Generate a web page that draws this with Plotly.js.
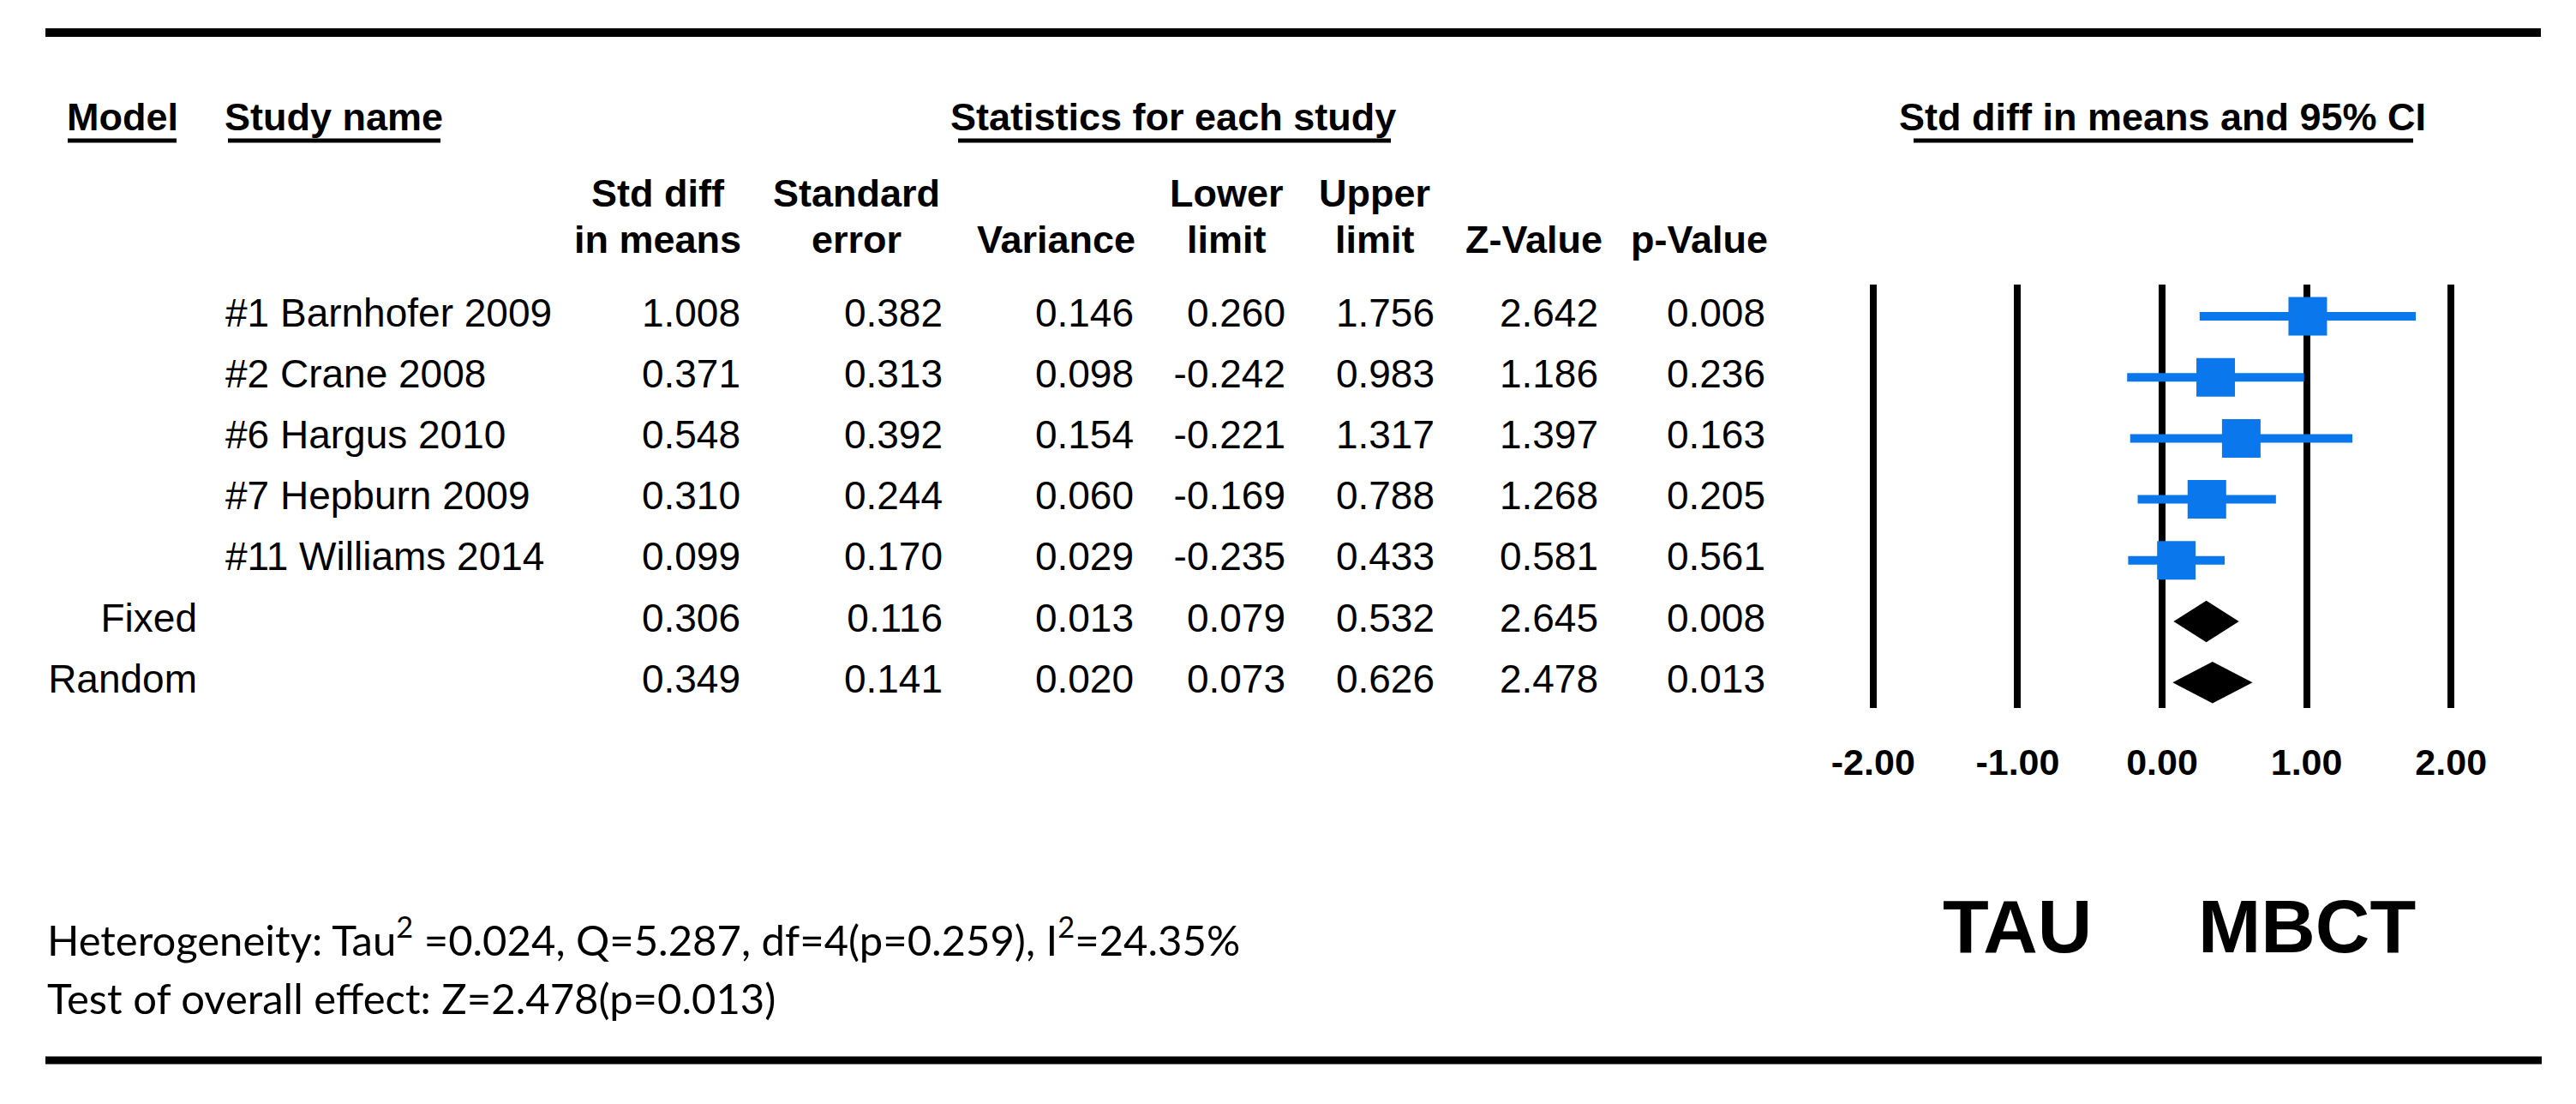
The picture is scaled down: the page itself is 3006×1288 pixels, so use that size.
<!DOCTYPE html>
<html><head><meta charset="utf-8">
<script src="https://cdn.plot.ly/plotly-3.0.1.min.js"></script>
<style>html,body{margin:0;padding:0;background:#fff}#chart{width:3006px;height:1288px}</style>
</head><body><div id="chart"></div>
<script>
// ---------------- data ----------------
const studyNames = ['#1 Barnhofer 2009','#2 Crane 2008','#6 Hargus 2010','#7 Hepburn 2009','#11 Williams 2014'];
const modelNames = ['Fixed','Random'];
const stdDiff  = [1.008, 0.371, 0.548, 0.310, 0.099, 0.306, 0.349];
const stdErr   = [0.382, 0.313, 0.392, 0.244, 0.170, 0.116, 0.141];
const variance = [0.146, 0.098, 0.154, 0.060, 0.029, 0.013, 0.020];
const lowerLim = [0.260, -0.242, -0.221, -0.169, -0.235, 0.079, 0.073];
const upperLim = [1.756, 0.983, 1.317, 0.788, 0.433, 0.532, 0.626];
const zValue   = [2.642, 1.186, 1.397, 1.268, 0.581, 2.645, 2.478];
const pValue   = [0.008, 0.236, 0.163, 0.205, 0.561, 0.008, 0.013];
const tickValues = [-2, -1, 0, 1, 2];
const tickLabels = ['-2.00', '-1.00', '0.00', '1.00', '2.00'];
const groupLabels = ['TAU', 'MBCT'];
const groupPositions = [-1, 1];
const topHeaders = ['Model', 'Study name', 'Statistics for each study', 'Std diff in means and 95% CI'];
const colHeaders1 = ['Std diff', 'Standard', '', 'Lower', 'Upper', '', ''];
const colHeaders2 = ['in means', 'error', 'Variance', 'limit', 'limit', 'Z-Value', 'p-Value'];
const footLines = [
  'Heterogeneity: Tau<sup>2</sup> =0.024, Q=5.287, df=4(p=0.259), I<sup>2</sup>=24.35%',
  'Test of overall effect: Z=2.478(p=0.013)'
];

// ---------------- layout constants (pixels) ----------------
const W = 3006, H = 1288;
const ROW0 = 369, ROWSTEP = 71.2;
const plotTop = 332, plotBot = 826;
const colRight = [864, 1100, 1323, 1500, 1674, 1865, 2060];
const colHeadCenter = [768, 999, 1232, 1431, 1604, 1790, 1983];
const BLUE = '#0a78ec';
const FONT = 'Liberation Sans, Arial, sans-serif';
const REG = 46, BOLD = 45;

const nStudies = studyNames.length;
const rows = stdDiff.map((_, i) => i);
const studyRows = rows.slice(0, nStudies);
const modelRows = rows.slice(nStudies);

const yRange = [(plotBot - ROW0) / ROWSTEP, (plotTop - ROW0) / ROWSTEP];
const px = v => v / W;
const py = v => 1 - v / H;

const traces = [];
const columns = [stdDiff, stdErr, variance, lowerLim, upperLim, zValue, pValue];
columns.forEach((col, c) => {
  traces.push({
    type: 'scatter', mode: 'text', xaxis: 'x2', yaxis: 'y2',
    x: rows.map(() => colRight[c]), y: rows,
    text: col.map(v => v.toFixed(3)),
    textposition: 'middle left', cliponaxis: false, hoverinfo: 'skip',
    textfont: {family: FONT, size: REG, color: '#000'}, showlegend: false
  });
});
traces.push({
  type: 'scatter', mode: 'text', xaxis: 'x2', yaxis: 'y2',
  x: studyRows.map(() => 263), y: studyRows, text: studyNames,
  textposition: 'middle right', cliponaxis: false, hoverinfo: 'skip',
  textfont: {family: FONT, size: REG, color: '#000'}, showlegend: false
});
traces.push({
  type: 'scatter', mode: 'text', xaxis: 'x2', yaxis: 'y2',
  x: modelRows.map(() => 230), y: modelRows, text: modelNames,
  textposition: 'middle left', cliponaxis: false, hoverinfo: 'skip',
  textfont: {family: FONT, size: REG, color: '#000'}, showlegend: false
});

// study CIs + squares
const sEst = stdDiff.slice(0, nStudies);
traces.push({
  type: 'scatter', mode: 'markers', xaxis: 'x', yaxis: 'y',
  x: sEst, y: studyRows,
  marker: {symbol: 'square', size: 45, color: BLUE, line: {width: 0}},
  error_x: {
    type: 'data', symmetric: false,
    array: sEst.map((v, i) => upperLim[i] - v),
    arrayminus: sEst.map((v, i) => v - lowerLim[i]),
    color: BLUE, thickness: 10, width: 0
  },
  cliponaxis: false, hoverinfo: 'skip', showlegend: false
});
// summary diamonds
const DH = 0.34;
modelRows.forEach(r => {
  traces.push({
    type: 'scatter', mode: 'lines', xaxis: 'x', yaxis: 'y',
    x: [lowerLim[r], stdDiff[r], upperLim[r], stdDiff[r], lowerLim[r]],
    y: [r, r - DH, r, r + DH, r],
    fill: 'toself', fillcolor: '#000', line: {width: 0, color: '#000'},
    hoverinfo: 'skip', showlegend: false
  });
});

// annotations
const ann = [];
const topCenters = [142.5, 390, 1369, null];
topHeaders.forEach((t, i) => {
  const a = {text: '<b>' + t + '</b>', showarrow: false, yref: 'paper', y: py(137), yanchor: 'middle',
    xanchor: 'center', font: {family: FONT, size: BOLD, color: '#000'}};
  if (topCenters[i] === null) { a.xref = 'x'; a.x = 0; } else { a.xref = 'paper'; a.x = px(topCenters[i]); }
  ann.push(a);
});
colHeaders1.forEach((t, c) => {
  if (t) ann.push({text: '<b>' + t + '</b>', showarrow: false, xref: 'paper', yref: 'paper',
    x: px(colHeadCenter[c]), y: py(226), xanchor: 'center', yanchor: 'middle',
    font: {family: FONT, size: BOLD, color: '#000'}});
});
colHeaders2.forEach((t, c) => {
  ann.push({text: '<b>' + t + '</b>', showarrow: false, xref: 'paper', yref: 'paper',
    x: px(colHeadCenter[c]), y: py(280), xanchor: 'center', yanchor: 'middle',
    font: {family: FONT, size: BOLD, color: '#000'}});
});
groupLabels.forEach((t, i) => {
  ann.push({text: '<b>' + t + '</b>', showarrow: false, xref: 'x', yref: 'paper',
    x: groupPositions[i], y: py(1080), xanchor: 'center', yanchor: 'middle',
    font: {family: FONT, size: 88, color: '#000'}});
});
const footY = [1092, 1164];
footLines.forEach((t, i) => {
  ann.push({text: t, showarrow: false, xref: 'paper', yref: 'paper',
    x: px(53), y: py(footY[i]), xanchor: 'left', yanchor: 'middle',
    font: {family: 'Lato, sans-serif', size: 49, color: '#000'}});
});

// shapes
const shapes = [];
const hline = (x0, x1, y, w) => ({type: 'line', xref: 'paper', yref: 'paper',
  x0: px(x0), x1: px(x1), y0: py(y), y1: py(y), line: {color: '#000', width: w}});
shapes.push(hline(53, 2965, 38, 10));
shapes.push(hline(53, 2966, 1237, 9));
[[79, 206], [266, 514], [1118, 1623], [2233, 2816]].forEach(s => shapes.push(hline(s[0], s[1], 164, 5)));

const layout = {
  width: W, height: H, margin: {l: 0, r: 0, t: 0, b: 0},
  paper_bgcolor: '#fff', plot_bgcolor: 'rgba(0,0,0,0)', showlegend: false,
  xaxis: {
    domain: [px(2100), px(2945)], range: [(2100 - 2523) / 168.6, (2945 - 2523) / 168.6],
    anchor: 'y', tickvals: tickValues, ticktext: tickLabels,
    showgrid: true, gridcolor: '#000', gridwidth: 8, zeroline: false, showline: false,
    ticks: 'outside', ticklen: 25, tickcolor: 'rgba(0,0,0,0)',
    tickfont: {family: FONT, size: 43, color: '#000', weight: 'bold'}, fixedrange: true
  },
  yaxis: {domain: [1 - plotBot / H, 1 - plotTop / H], range: yRange, anchor: 'x',
    visible: false, showgrid: false, zeroline: false, fixedrange: true},
  xaxis2: {domain: [0, 1], range: [0, W], anchor: 'y2', visible: false, showgrid: false, zeroline: false},
  yaxis2: {domain: [1 - plotBot / H, 1 - plotTop / H], range: yRange, anchor: 'x2',
    visible: false, showgrid: false, zeroline: false},
  annotations: ann, shapes: shapes
};
Plotly.newPlot('chart', traces, layout, {staticPlot: true, displayModeBar: false});
</script></body></html>
